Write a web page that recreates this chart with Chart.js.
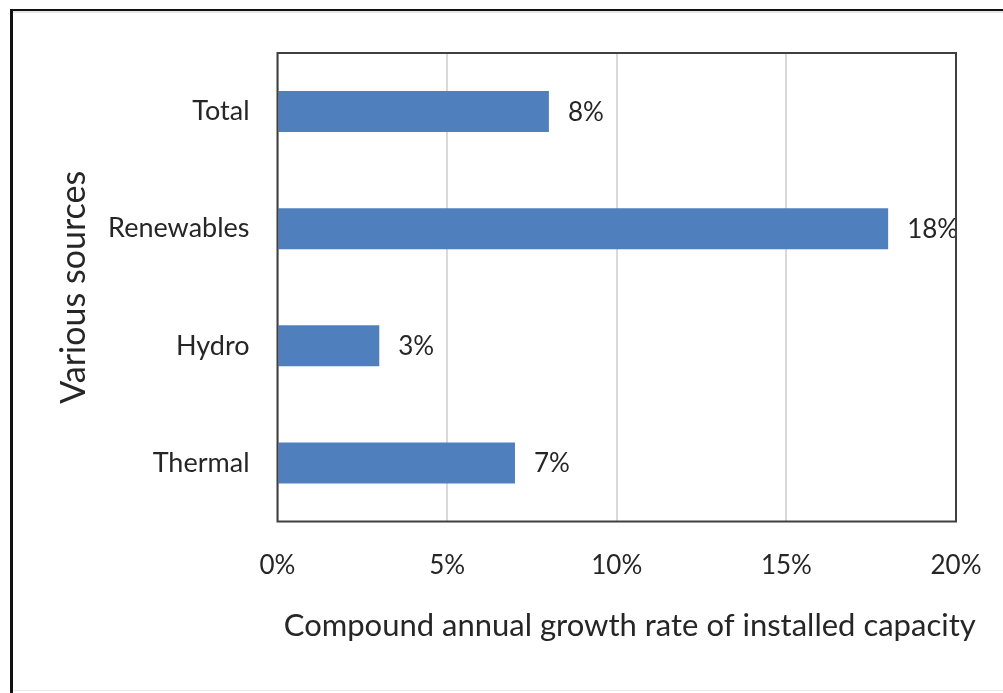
<!DOCTYPE html>
<html>
<head>
<meta charset="utf-8">
<script src="https://cdn.jsdelivr.net/npm/chart.js@4.4.1/dist/chart.umd.min.js"></script>
<style>
  html, body { margin: 0; padding: 0; background: #fff; }
  #wrap { position: relative; width: 1003px; height: 693px; overflow: hidden; }
  canvas { position: absolute; left: 0; top: 0; }
  .ln { position: absolute; }
</style>
</head>
<body>
<div id="wrap">
  <canvas id="c" width="1003" height="693"></canvas>
  <div class="ln" style="left:10px; top:9px; width:993px; height:2px; background:#111;"></div>
  <div class="ln" style="left:10px; top:11px; width:993px; height:2px; background:#e6e6e6;"></div>
  <div class="ln" style="left:10px; top:9px; width:3px; height:684px; background:#111;"></div>
  <div class="ln" style="left:13px; top:690px; width:990px; height:1px; background:#e8e8e8;"></div>
</div>
<script>
const categories = ["Total", "Renewables", "Hydro", "Thermal"];
const growthRates = [8, 18, 3, 7];
const xTicks = [0, 5, 10, 15, 20];
const xTitle = "Compound annual growth rate of installed capacity";
const yTitle = "Various sources";

const FONT = "Lato, 'Open Sans', sans-serif";
const TEXT = "#262626";

const valueLabels = {
  id: "valueLabels",
  afterDatasetsDraw(chart) {
    const ctx = chart.ctx;
    const meta = chart.getDatasetMeta(0);
    ctx.save();
    ctx.font = "26px " + FONT;
    ctx.fillStyle = TEXT;
    ctx.textAlign = "left";
    ctx.textBaseline = "middle";
    meta.data.forEach((bar, i) => {
      ctx.fillText(growthRates[i] + "%", bar.x + 19, bar.y + 1);
    });
    ctx.restore();
  }
};

const xTitlePlugin = {
  id: "xTitlePlugin",
  afterDraw(chart) {
    const ctx = chart.ctx;
    const a = chart.chartArea;
    ctx.save();
    ctx.font = "31px " + FONT;
    ctx.fillStyle = TEXT;
    ctx.textAlign = "center";
    ctx.textBaseline = "middle";
    ctx.fillText(xTitle, (a.left + a.right) / 2 + 13, 626);
    ctx.restore();
  }
};

new Chart(document.getElementById("c"), {
  type: "bar",
  data: {
    labels: categories,
    datasets: [{
      data: growthRates,
      backgroundColor: "#4f80bd",
      borderWidth: 0,
      barPercentage: 0.35,
      categoryPercentage: 1.0
    }]
  },
  options: {
    indexAxis: "y",
    responsive: false,
    animation: false,
    devicePixelRatio: 1,
    layout: { padding: { top: 53, right: 47, left: 0, bottom: 0 } },
    plugins: { legend: { display: false }, tooltip: { enabled: false } },
    scales: {
      x: {
        min: 0, max: 20,
        afterBuildTicks(scale) { scale.ticks = xTicks.map(v => ({ value: v })); },
        afterFit(scale) { scale.height = 171.5; scale.paddingLeft = 0; scale.paddingRight = 0; },
        ticks: {
          callback: v => v + "%",
          color: TEXT,
          font: { family: FONT, size: 26 },
          padding: 29
        },
        grid: { color: "#d9d9d9", lineWidth: 2, drawTicks: false },
        border: { display: false }
      },
      y: {
        afterFit(scale) { scale.width = 277.5; scale.paddingTop = 0; scale.paddingBottom = 0; },
        ticks: {
          color: TEXT,
          font: { family: FONT, size: 27 },
          padding: 28
        },
        grid: { display: false, drawTicks: false },
        border: { display: false },
        title: {
          display: true,
          text: yTitle,
          color: TEXT,
          font: { family: FONT, size: 34 },
          padding: { top: 54, bottom: 0 }
        }
      }
    }
  },
  plugins: [valueLabels, xTitlePlugin, {
    id: "frame",
    afterDraw(chart) {
      const a = chart.chartArea, ctx = chart.ctx;
      ctx.save();
      ctx.strokeStyle = "#3f3f3f";
      ctx.lineWidth = 2;
      ctx.strokeRect(a.left, a.top, a.right - a.left, a.bottom - a.top);
      ctx.restore();
    }
  }]
});
</script>
</body>
</html>
